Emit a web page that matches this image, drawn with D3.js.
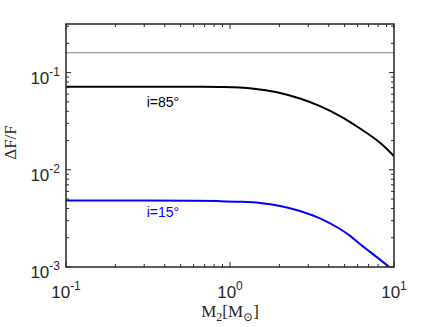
<!DOCTYPE html>
<html>
<head>
<meta charset="utf-8">
<script src="https://cdn.jsdelivr.net/npm/d3@7"></script>
<style>
  body { margin: 0; background: #fff; }
  svg { display: block; }
</style>
</head>
<body>
<script>
// values
var massHi = [0.1, 0.3, 0.6, 0.87, 1.15, 1.52, 2.02, 2.67, 3.54, 4.69, 6.21, 8.22, 10];
var dfHi   = [0.0716, 0.0716, 0.0715, 0.0713, 0.0703, 0.0670, 0.0618, 0.0542, 0.0452, 0.0357, 0.0266, 0.0190, 0.0138];

var massLo = [0.1, 0.3, 0.6, 0.87, 1.15, 1.52, 2.02, 2.67, 3.54, 4.69, 5.40, 6.21, 7.14, 8.22, 9.33];
var dfLo   = [0.00482, 0.00482, 0.00480, 0.00476, 0.00469, 0.00455, 0.00424, 0.00377, 0.00316, 0.00246, 0.00209, 0.00172, 0.00143, 0.00119, 0.001];

var refLevel = 0.16;                       // grey horizontal line
var xMajor = [0.1, 1, 10];
var yMajor = [0.001, 0.01, 0.1];
var curveLabels = [
  {text: "i=85°", m: 0.39, v: 0.0447, color: "#000"},
  {text: "i=15°", m: 0.39, v: 0.0033, color: "#0000ff"}
];

var svg = d3.select("body").append("svg").attr("width", 436).attr("height", 327),
    margin = {top: 24, right: 42, bottom: 60, left: 66},
    width = 436 - margin.left - margin.right,
    height = 327 - margin.top - margin.bottom,
    g = svg.append("g").attr("transform", "translate(" + margin.left + "," + margin.top + ")");

var x = d3.scaleLog().domain([0.1, 10]).range([0, width]);
var y = d3.scaleLog().domain([0.001, Math.pow(10, -0.5)]).range([height, 0]);

var axisColor = "#262626";

svg.append("defs").append("clipPath").attr("id", "clip")
  .append("rect").attr("width", width).attr("height", height);

var plot = g.append("g").attr("clip-path", "url(#clip)");

// grey reference line
plot.append("line")
    .attr("x1", 0).attr("x2", width)
    .attr("y1", y(refLevel)).attr("y2", y(refLevel))
    .attr("stroke", "#808080").attr("stroke-width", 1.2);

var line = d3.line()
    .x(function(d) { return x(d[0]); })
    .y(function(d) { return y(d[1]); })
    .curve(d3.curveCatmullRom.alpha(0.5));

plot.append("path")
    .datum(d3.zip(massHi, dfHi))
    .attr("d", line)
    .attr("fill", "none").attr("stroke", "#000").attr("stroke-width", 2);

plot.append("path")
    .datum(d3.zip(massLo, dfLo))
    .attr("d", line)
    .attr("fill", "none").attr("stroke", "#0000ff").attr("stroke-width", 2);

// curve labels
g.selectAll(".clabel")
  .data(curveLabels)
  .enter().append("text")
    .attr("class", "clabel")
    .attr("x", function(d) { return x(d.m); })
    .attr("y", function(d) { return y(d.v); })
    .attr("text-anchor", "middle")
    .attr("fill", function(d) { return d.color; })
    .style("font-family", "Liberation Sans, Arial, sans-serif")
    .style("font-size", "14px")
    .text(function(d) { return d.text; });

// ticks: inward, on all four sides
var xMinor = x.ticks().filter(function(v) { return xMajor.indexOf(v) < 0; });
var yMinor = y.ticks().filter(function(v) { return yMajor.map(String).indexOf(String(v)) < 0; });
var ticks = g.append("g").attr("stroke", axisColor).attr("stroke-width", 1);

function xTicks(vals, len) {
  vals.forEach(function(v) {
    ticks.append("line").attr("x1", x(v)).attr("x2", x(v)).attr("y1", height).attr("y2", height - len);
    ticks.append("line").attr("x1", x(v)).attr("x2", x(v)).attr("y1", 0).attr("y2", len);
  });
}
function yTicks(vals, len) {
  vals.forEach(function(v) {
    ticks.append("line").attr("y1", y(v)).attr("y2", y(v)).attr("x1", 0).attr("x2", len);
    ticks.append("line").attr("y1", y(v)).attr("y2", y(v)).attr("x1", width).attr("x2", width - len);
  });
}
xTicks(xMajor, 5); xTicks(xMinor, 3);
yTicks(yMajor, 5); yTicks(yMinor, 3);

// frame
g.append("rect")
    .attr("width", width).attr("height", height)
    .attr("fill", "none").attr("stroke", axisColor).attr("stroke-width", 1.5);

// tick labels 10^n
function powLabel(sel, v) {
  var e = Math.round(Math.log10(v));
  sel.append("tspan").text("10");
  sel.append("tspan").attr("dy", -8).style("font-size", "12px").text(String(e));
}

g.selectAll(".xlab")
  .data(xMajor)
  .enter().append("text")
    .attr("class", "xlab")
    .attr("x", function(d) { return x(d); })
    .attr("y", height + 31)
    .attr("text-anchor", "middle")
    .attr("fill", axisColor)
    .style("font-family", "Liberation Sans, Arial, sans-serif")
    .style("font-size", "17px")
    .each(function(d) { powLabel(d3.select(this), d); });

g.selectAll(".ylab")
  .data(yMajor)
  .enter().append("text")
    .attr("class", "ylab")
    .attr("x", -6)
    .attr("y", function(d) { return y(d) + 11; })
    .attr("text-anchor", "end")
    .attr("fill", axisColor)
    .style("font-family", "Liberation Sans, Arial, sans-serif")
    .style("font-size", "17px")
    .each(function(d) { powLabel(d3.select(this), d); });

// axis titles
var xt = g.append("text")
    .attr("x", width / 2)
    .attr("y", height + 50)
    .attr("text-anchor", "middle")
    .attr("fill", axisColor)
    .style("font-family", "Liberation Serif, DejaVu Serif, serif")
    .style("font-size", "17px");
xt.append("tspan").text("M");
xt.append("tspan").attr("dy", 4).style("font-size", "12px").text("2");
xt.append("tspan").attr("dy", -4).text("[M");
xt.append("tspan").attr("dy", 4).style("font-size", "12px").text("⊙");
xt.append("tspan").attr("dy", -4).text("]");

g.append("text")
    .attr("transform", "translate(" + (-50) + "," + (height / 2 - 3) + ") rotate(-90)")
    .attr("text-anchor", "middle")
    .attr("fill", axisColor)
    .style("font-family", "Liberation Serif, DejaVu Serif, serif")
    .style("font-size", "17px")
    .text("ΔF/F");
</script>
</body>
</html>
